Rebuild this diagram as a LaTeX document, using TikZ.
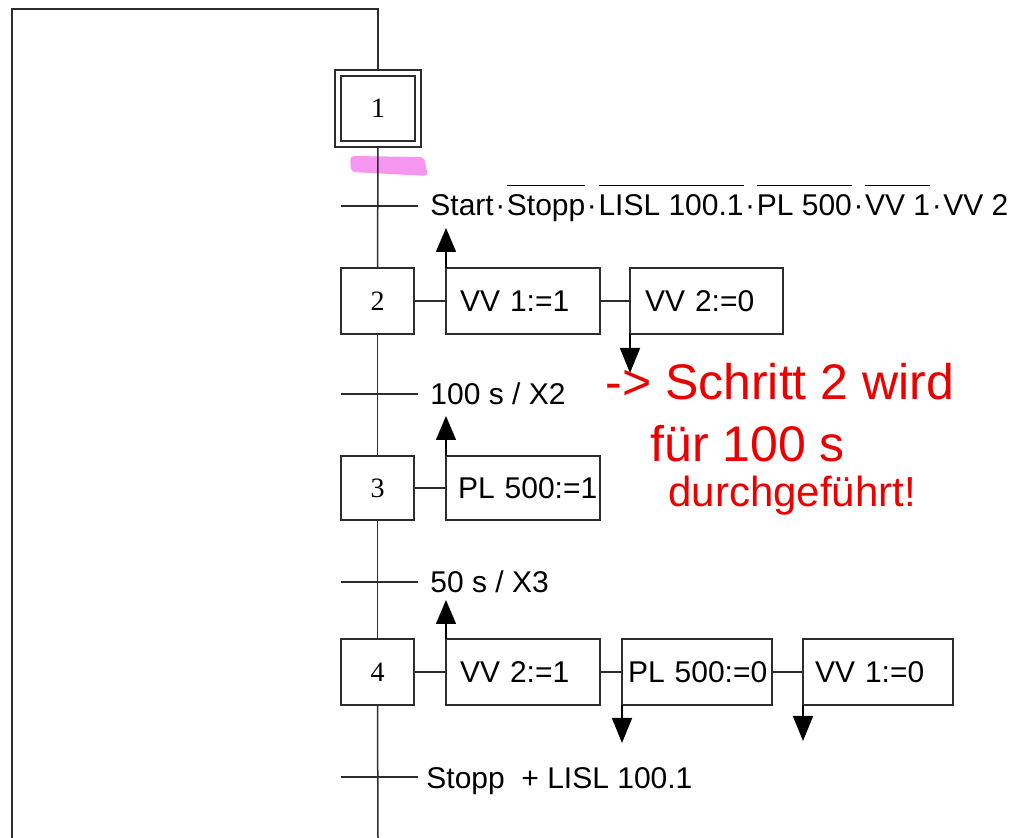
\documentclass[tikz,border=0pt]{standalone}
\usepackage{fontspec}
\setmainfont{Liberation Sans}
\newfontfamily\numfont{Liberation Serif}
\usetikzlibrary{arrows.meta}
\newcommand\ovl[1]{\setbox0\hbox{#1}\rlap{\rule[15pt]{\wd0}{0.5pt}}\box0}
\newcommand\mdot{\hspace{0.8pt}·\hspace{0.8pt}}
\definecolor{ink}{RGB}{45,45,45}
\definecolor{hilite}{RGB}{245,150,240}
\definecolor{pen}{RGB}{235,0,0}
\begin{document}
\begin{tikzpicture}[x=0.5pt,y=-0.5pt,
  ln/.style={draw=ink,line width=0.75pt},
  stepbox/.style={draw=ink,line width=0.75pt,minimum width=36.5pt,minimum height=33pt,inner sep=0pt,outer sep=0pt,font=\numfont\fontsize{14}{16}\selectfont},
  actbox/.style={draw=ink,line width=0.75pt,anchor=west,minimum height=33pt,inner sep=0pt,outer sep=0pt,align=left,font=\fontsize{15}{18}\selectfont},
  thick box/.style={line width=1.1pt},
  trans/.style={anchor=base west,inner sep=0pt,font=\fontsize{15}{18}\selectfont},
  note/.style={anchor=base west,inner sep=0pt,text=pen,font=\fontsize{23}{27}\selectfont},
  upar/.style={ln,-{Triangle[width=10pt,length=12pt]},draw=black},
  dnar/.style={ln,-{Triangle[width=10pt,length=12.5pt]},draw=black}]
\useasboundingbox (0,0) rectangle (1012,838);

% highlighter
\fill[hilite,draw=none,rounded corners=2pt] (350,156) -- (424,157) -- (428,176) -- (351,172) -- cycle;

% steps
\node[stepbox,minimum width=43pt,minimum height=38.5pt] (s1) at (378,108.5) {};
\node[stepbox,minimum width=37pt,minimum height=32.5pt] (s1i) at (378,108.5) {1};
\node[stepbox] (s2) at (377.5,301) {2};
\node[stepbox,minimum height=32pt] (s3) at (377.5,488) {3};
\node[stepbox] (s4) at (377.5,672) {4};

% loop and main line
\coordinate (bl) at (12,838);
\coordinate (tr) at (378,9);
\coordinate (bot) at (378,838);
\draw[ln,line width=0.9pt] (bl) |- (tr) -- (s1.north);
\draw[ln] (s1.south) -- (s2.north);
\draw[ln] (s2.south) -- (s3.north);
\draw[ln] (s3.south) -- (s4.north);
\draw[ln] (s4.south) -- (bot);

% transitions
\coordinate (t1a) at (341,206); \coordinate (t1b) at (418,206);
\coordinate (t2a) at (341,394); \coordinate (t2b) at (418,394);
\coordinate (t3a) at (341,582); \coordinate (t3b) at (418,582);
\coordinate (t4a) at (341,777); \coordinate (t4b) at (418,777);
\draw[ln] (t1a) -- (t1b);
\draw[ln] (t2a) -- (t2b);
\draw[ln] (t3a) -- (t3b);
\draw[ln] (t4a) -- (t4b);
\node[trans] (c1) at (430,216) {Start\mdot\ovl{Stopp}\mdot\ovl{LISL 100.1}\mdot\ovl{PL 500}\mdot\ovl{VV 1}\mdot VV 2};
\node[trans] (c2) at (430,405) {100 s / X2};
\node[trans] (c3) at (430,593) {50 s / X3};
\node[trans] (c4) at (426,789) {Stopp \ + LISL 100.1};

% actions step 2
\node[actbox,text width=77pt] (a21) at (446,301) {\hspace*{7pt}VV 1:=1};
\node[actbox,thick box,text width=76.5pt] (a22) at (630,301) {\hspace*{7.5pt}VV 2:=0};
\draw[ln] (s2.east) -- (a21.west);
\draw[ln] (a21.east) -- (a22.west);
\coordinate (u2) at (446,228);
\coordinate (d2) at (630,373);
\draw[upar] (a21.north west) -- (u2);
\draw[dnar] (a22.south west) -- (d2);

% actions step 3
\node[actbox,thick box,minimum height=32pt,text width=77pt] (a31) at (446,488) {\hspace*{6pt}PL 500:=1};
\draw[ln] (s3.east) -- (a31.west);
\coordinate (u3) at (446,416);
\draw[upar] (a31.north west) -- (u3);

% actions step 4
\node[actbox,text width=77pt] (a41) at (446,672) {\hspace*{7pt}VV 2:=1};
\node[actbox,text width=75pt] (a42) at (622,672) {\hspace*{3pt}PL 500:=0};
\node[actbox,text width=75pt] (a43) at (803,672) {\hspace*{6pt}VV 1:=0};
\draw[ln] (s4.east) -- (a41.west);
\draw[ln] (a41.east) -- (a42.west);
\draw[ln] (a42.east) -- (a43.west);
\coordinate (u4) at (446,600);
\coordinate (d41) at (622,743);
\coordinate (d42) at (803,741);
\draw[upar] (a41.north west) -- (u4);
\draw[dnar] (a42.south west) -- (d41);
\draw[dnar] (a43.south west) -- (d42);

% handwritten note
\node[note,font=\fontsize{25}{29}\selectfont] (n1) at (605,400) {-> Schritt 2 wird};
\node[note,font=\fontsize{25}{29}\selectfont] (n2) at (650,462) {für 100 s};
\node[note,font=\fontsize{21}{25}\selectfont] (n3) at (668,507) {durchgeführt!};
\end{tikzpicture}
\end{document}
